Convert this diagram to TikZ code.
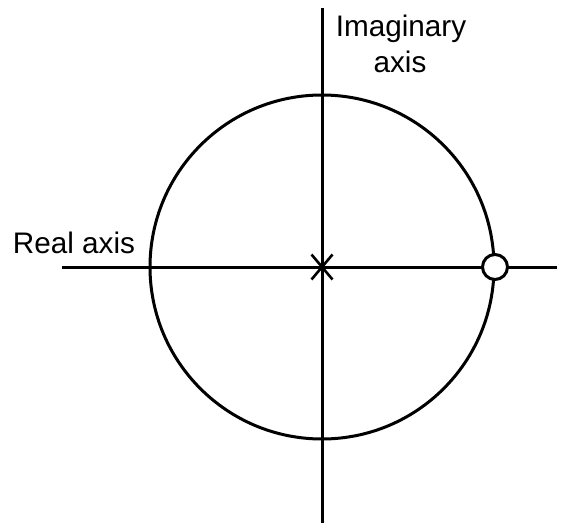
\documentclass[tikz,border=0pt]{standalone}
\usepackage{fontspec}
\setmainfont{Liberation Sans}
\begin{document}
\begin{tikzpicture}[x=1pt,y=-1pt,
  axisline/.style={line width=3pt},
  lbl/.style={inner sep=0pt, font=\fontsize{29.7}{35}\selectfont},
]
\useasboundingbox (0,0) rectangle (572,527);
\coordinate (o) at (322,267);
\coordinate (vt) at (322,8);
\coordinate (vb) at (322,523);
\coordinate (hl) at (62,267);
\coordinate (hr) at (557,267);
\draw[axisline] (vt) -- (vb);
\draw[axisline] (hl) -- (hr);
\draw[axisline] (o) circle[radius=172];
\draw[line width=2.6pt] (311.5,254.5) -- (332.5,279.5);
\draw[line width=2.6pt] (332.5,254.5) -- (311.5,279.5);
\node[draw, circle, fill=white, line width=3pt, minimum size=25pt, inner sep=0pt] (zero) at (495,267) {};
\node[lbl, anchor=base] (imag1) at (401,37) {Imaginary};
\node[lbl, anchor=base] (imag2) at (400,72) {axis};
\node[lbl, anchor=base] (real) at (74,253) {Real axis};
\end{tikzpicture}
\end{document}
